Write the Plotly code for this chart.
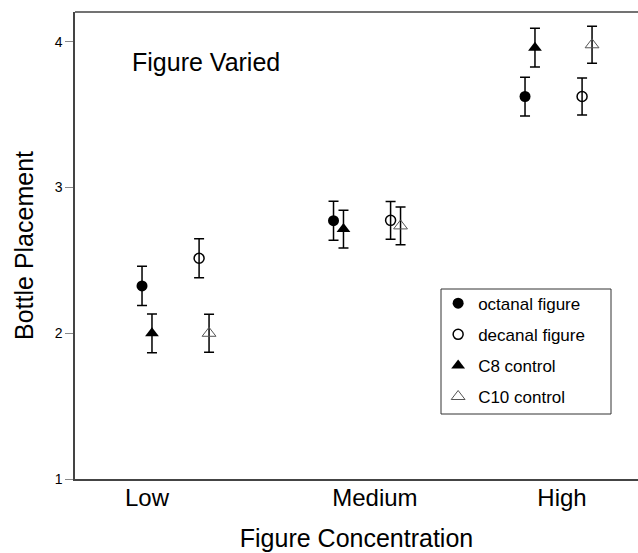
import plotly.graph_objects as go

groups = ["Low", "Medium", "High"]
group_index = [0, 1, 2]

octanal = [2.325, 2.773, 3.625]
octanal_err = [0.135, 0.134, 0.133]
decanal = [2.515, 2.775, 3.625]
decanal_err = [0.133, 0.13, 0.127]
c8 = [2.0, 2.715, 3.96]
c8_err = [0.133, 0.13, 0.133]
c10 = [2.0, 2.737, 3.98]
c10_err = [0.13, 0.13, 0.127]

series = [
    ("octanal figure", octanal, octanal_err, dict(offset=0.0, symbol="circle", size=11, color="black", line=dict(width=0, color="black"))),
    ("decanal figure", decanal, decanal_err, dict(offset=0.298, symbol="circle-open", size=10, color="black", line=dict(width=1.5, color="black"))),
    ("C8 control", c8, c8_err, dict(offset=0.052, symbol="triangle-up", size=12, color="black", line=dict(width=0, color="black"))),
    ("C10 control", c10, c10_err, dict(offset=0.35, symbol="triangle-up-open", size=12, color="#555555", line=dict(width=1, color="#555555"))),
]

fig = go.Figure()
for name, vals, errs, st in series:
    fig.add_trace(go.Scatter(
        x=[g + st["offset"] for g in group_index],
        y=vals,
        mode="markers",
        name=name,
        legendgroup=name,
        marker=dict(symbol=st["symbol"], size=st["size"], color=st["color"], line=st["line"]),
        error_y=dict(type="data", array=errs, visible=True, color="black", thickness=1.5, width=5),
    ))

FONT = "Liberation Sans, Arial, Helvetica, sans-serif"

fig.update_layout(
    width=638, height=553,
    margin=dict(l=75, r=0, t=12, b=74),
    plot_bgcolor="white", paper_bgcolor="white",
    font=dict(family=FONT, color="black"),
    showlegend=True,
    legend=dict(
        x=0.645, y=0.414, xanchor="left", yanchor="top",
        borderwidth=0,
        font=dict(size=17, family=FONT),
        tracegroupgap=6,
        itemsizing="trace",
        bgcolor="rgba(0,0,0,0)",
    ),
    annotations=[dict(
        text="Figure Varied", xref="paper", yref="paper", x=0.0977, y=0.893,
        xanchor="left", yanchor="middle", showarrow=False,
        font=dict(size=25, family=FONT, color="black"),
    )],
    shapes=[
        dict(type="line", xref="paper", yref="paper", x0=0, x1=1, y0=1, y1=1,
             line=dict(color="#444444", width=1.5)),
        dict(type="rect", xref="paper", yref="paper",
             x0=(441 - 75) / 563, x1=(611 - 75) / 563,
             y0=(479 - 414) / 467, y1=(479 - 289) / 467,
             line=dict(color="#333333", width=1), layer="below"),
    ],
)

fig.update_xaxes(
    range=[-0.350, 2.590],
    tickmode="array", tickvals=[0.026, 1.216, 2.193], ticktext=groups,
    ticks="outside", ticklen=3, tickcolor="white",
    ticklabelstandoff=-7,
    tickfont=dict(size=24, family=FONT),
    showline=True, linecolor="#444444", linewidth=1.5,
    showgrid=False, zeroline=False,
    title=dict(text="Figure Concentration", font=dict(size=25, family=FONT), standoff=20),
)
fig.update_yaxes(
    range=[1, 4.205],
    tickvals=[1, 2, 3, 4],
    ticks="outside", ticklen=8, tickcolor="#888888", tickwidth=1,
    tickfont=dict(size=14, family=FONT),
    showline=True, linecolor="#444444", linewidth=1.5,
    showgrid=False, zeroline=False,
    title=dict(text="Bottle Placement", font=dict(size=25, family=FONT), standoff=14),
)

fig.write_html("out.html", config={"displayModeBar": False},
               post_script="document.body.style.margin='0';")
